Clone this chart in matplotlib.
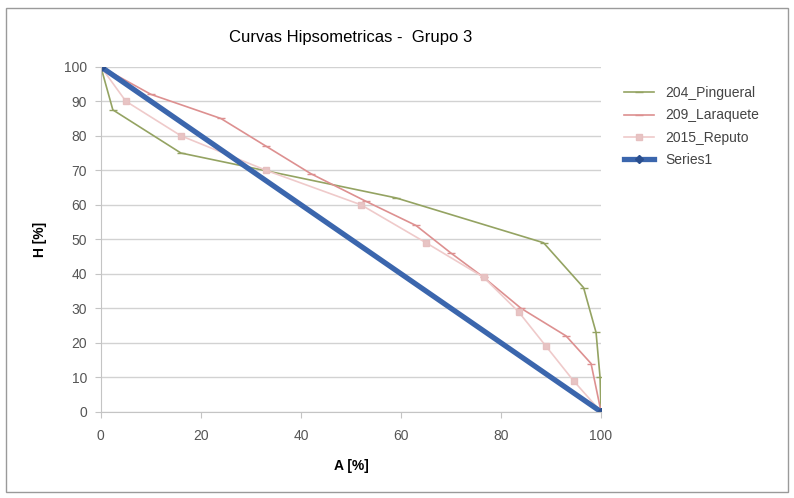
import matplotlib.pyplot as plt
from matplotlib.patches import Rectangle

# Data
x_pingueral = [0, 2.4, 16, 59, 88.5, 96.5, 99, 99.8, 100]
y_pingueral = [100, 87.5, 75, 62, 49, 36, 23, 10, 0]

x_laraquete = [0, 10, 24, 33, 42, 53, 63, 70, 76.5, 84, 93, 98, 100]
y_laraquete = [100, 92, 85, 77, 69, 61, 54, 46, 39, 30, 22, 14, 0]

x_reputo = [0, 5, 16, 33, 52, 65, 76.5, 83.5, 89, 94.5, 100]
y_reputo = [100, 90, 80, 70, 60, 49, 39, 29, 19, 9, 0]

x_series1 = [0, 100]
y_series1 = [100, 0]

x_ticks = [0, 20, 40, 60, 80, 100]
y_ticks = [0, 10, 20, 30, 40, 50, 60, 70, 80, 90, 100]

plt.rcParams['font.family'] = ['Liberation Sans', 'DejaVu Sans']

fig = plt.figure(figsize=(7.94, 4.98), dpi=100)
fig.patches.append(Rectangle((0.008, 0.012), 0.984, 0.972, transform=fig.transFigure,
                             fill=False, edgecolor='#9a9a9a', linewidth=1.0))
ax = fig.add_axes([0.127, 0.173, 0.63, 0.693])

ax.plot(x_pingueral, y_pingueral, color='#94a362', lw=1.2, marker='_', ms=6, mew=1.0,
        label='204_Pingueral')
ax.plot(x_laraquete, y_laraquete, color='#dd9090', lw=1.2, marker='_', ms=6, mew=1.0,
        label='209_Laraquete')
ax.plot(x_reputo, y_reputo, color='#efcaca', lw=1.2, marker='s', ms=5, mec='#e6c0c0',
        mfc='#e8c4c4', label='2015_Reputo')
ax.plot(x_series1, y_series1, color='#3b66ad', lw=3.8, marker='D', ms=4,
        mfc='#2a4f8f', mec='#2a4f8f', label='Series1')

ax.set_xlim(0, 100)
ax.set_ylim(0, 100)
ax.set_xticks(x_ticks)
ax.set_yticks(y_ticks)
ax.yaxis.grid(True, color='#d2d2d2', lw=1)
ax.set_axisbelow(True)
for s in ['top', 'right']:
    ax.spines[s].set_visible(False)
for s in ['left', 'bottom']:
    ax.spines[s].set_color('#c4c4c4')
ax.tick_params(colors='#c4c4c4', labelcolor='#555555', labelsize=10, length=4)
ax.tick_params(axis='x', pad=8)
ax.tick_params(axis='y', pad=6)

ax.set_title('Curvas Hipsometricas -  Grupo 3', fontsize=12, pad=18)
ax.set_xlabel('A [%]', fontsize=10, fontweight='bold', labelpad=12)
ax.set_ylabel('H [%]', fontsize=10, fontweight='bold', labelpad=12)

ax.legend(loc='upper left', bbox_to_anchor=(1.02, 0.98), frameon=False, fontsize=10,
          handlelength=2.2, labelspacing=0.6, labelcolor='#444444')

fig.savefig('out.png', dpi=100)
